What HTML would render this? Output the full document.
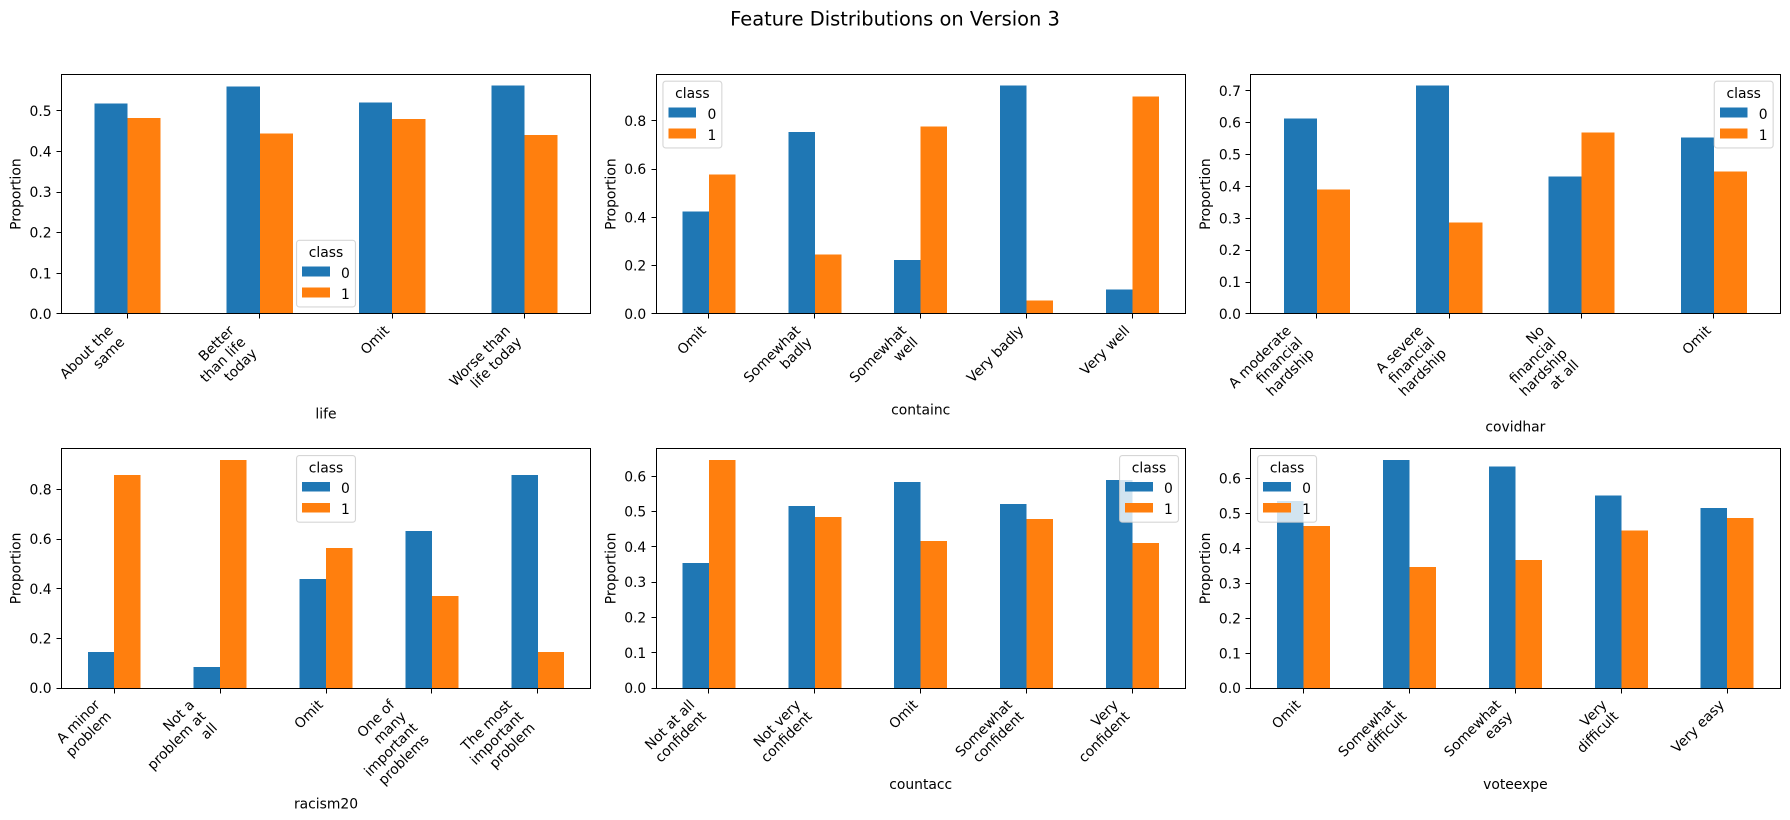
<!DOCTYPE html>
<html lang="en">
<head>
<meta charset="utf-8">
<title>Feature Distributions on Version 3</title>
<style>
html,body{margin:0;padding:0;background:#fff;}
body{width:1790px;height:820px;overflow:hidden;}
svg{display:block;}
text{font-family:"DejaVu Sans","Liberation Sans",sans-serif;font-size:13.89px;fill:#000;}
</style>
</head>
<body>
<svg id="figure" xmlns="http://www.w3.org/2000/svg" width="1790" height="820" viewBox="0 0 1790 820">
<text x="895" y="25.4" text-anchor="middle" style="font-size:19.44px">Feature Distributions on Version 3</text>
</svg>
<script>
const lifeCategories = ["About the\nsame", "Better\nthan life\ntoday", "Omit", "Worse than\nlife today"];
const lifeClass0 = [0.518, 0.560, 0.521, 0.562];
const lifeClass1 = [0.483, 0.444, 0.480, 0.441];
const lifeTicks = [0, 0.1, 0.2, 0.3, 0.4, 0.5];

const containcCategories = ["Omit", "Somewhat\nbadly", "Somewhat\nwell", "Very badly", "Very well"];
const containcClass0 = [0.424, 0.755, 0.224, 0.946, 0.101];
const containcClass1 = [0.577, 0.246, 0.777, 0.055, 0.901];
const containcTicks = [0, 0.2, 0.4, 0.6, 0.8];

const covidharCategories = ["A moderate\nfinancial\nhardship", "A severe\nfinancial\nhardship", "No\nfinancial\nhardship\nat all", "Omit"];
const covidharClass0 = [0.613, 0.716, 0.431, 0.553];
const covidharClass1 = [0.391, 0.287, 0.569, 0.447];
const covidharTicks = [0, 0.1, 0.2, 0.3, 0.4, 0.5, 0.6, 0.7];

const racism20Categories = ["A minor\nproblem", "Not a\nproblem at\nall", "Omit", "One of\nmany\nimportant\nproblems", "The most\nimportant\nproblem"];
const racism20Class0 = [0.145, 0.085, 0.439, 0.633, 0.858];
const racism20Class1 = [0.858, 0.919, 0.564, 0.371, 0.145];
const racism20Ticks = [0, 0.2, 0.4, 0.6, 0.8];

const countaccCategories = ["Not at all\nconfident", "Not very\nconfident", "Omit", "Somewhat\nconfident", "Very\nconfident"];
const countaccClass0 = [0.355, 0.516, 0.584, 0.522, 0.590];
const countaccClass1 = [0.646, 0.485, 0.417, 0.479, 0.411];
const countaccTicks = [0, 0.1, 0.2, 0.3, 0.4, 0.5, 0.6];

const voteexpeCategories = ["Omit", "Somewhat\ndifficult", "Somewhat\neasy", "Very\ndifficult", "Very easy"];
const voteexpeClass0 = [0.535, 0.653, 0.635, 0.551, 0.515];
const voteexpeClass1 = [0.464, 0.347, 0.367, 0.451, 0.487];
const voteexpeTicks = [0, 0.1, 0.2, 0.3, 0.4, 0.5, 0.6];

const charts = [
  {feature: "life", categories: lifeCategories, class0: lifeClass0, class1: lifeClass1, ticks: lifeTicks, legend: "lower center"},
  {feature: "containc", categories: containcCategories, class0: containcClass0, class1: containcClass1, ticks: containcTicks, legend: "upper left"},
  {feature: "covidhar", categories: covidharCategories, class0: covidharClass0, class1: covidharClass1, ticks: covidharTicks, legend: "upper right"},
  {feature: "racism20", categories: racism20Categories, class0: racism20Class0, class1: racism20Class1, ticks: racism20Ticks, legend: "upper center"},
  {feature: "countacc", categories: countaccCategories, class0: countaccClass0, class1: countaccClass1, ticks: countaccTicks, legend: "upper right"},
  {feature: "voteexpe", categories: voteexpeCategories, class0: voteexpeClass0, class1: voteexpeClass1, ticks: voteexpeTicks, legend: "upper left"}
];

const NS = "http://www.w3.org/2000/svg";
const svg = document.getElementById("figure");
const BLUE = "#1f77b4";
const ORANGE = "#ff7f0e";
const PANEL_W = 529.4;
const PANEL_H = 239.6;
const PANEL_LEFTS = [61.3, 656, 1250.7];
const PANEL_TOPS = [74.3, 448.6];
const LW = 1.11;
const LINE_GAP = 16.2;

function make(tag, parent) {
  const el = document.createElementNS(NS, tag);
  parent.appendChild(el);
  return el;
}
function setAll(el, pairs) {
  Object.keys(pairs).forEach(function (k) { el.setAttribute(k, pairs[k]); });
}
function snap(v) { return Math.round(v - 0.5) + 0.5; }

function drawPanel(chart, index) {
  const left = PANEL_LEFTS[index % 3];
  const top = PANEL_TOPS[Math.floor(index / 3)];
  const right = left + PANEL_W;
  const bottom = top + PANEL_H;
  const n = chart.categories.length;
  const yMax = Math.max.apply(null, chart.class0.concat(chart.class1)) * 1.05;
  const xScale = function (u) { return left + (u + 0.5) / n * PANEL_W; };
  const yScale = function (v) { return bottom - v / yMax * PANEL_H; };

  const g = make("g", svg);
  
  

  const barLayer = make("g", g);
  
  
  barLayer.setAttribute("shape-rendering", "crispEdges");
  chart.categories.forEach(function (cat, i) {
    const b0 = make("rect", barLayer);
    setAll(b0, {x: xScale(i - 0.25), y: yScale(chart.class0[i]), width: xScale(i) - xScale(i - 0.25), height: bottom - yScale(chart.class0[i]), fill: BLUE});
    
    
    const b1 = make("rect", barLayer);
    setAll(b1, {x: xScale(i), y: yScale(chart.class1[i]), width: xScale(i + 0.25) - xScale(i), height: bottom - yScale(chart.class1[i]), fill: ORANGE});
    
    
  });

  const frame = make("rect", g);
  setAll(frame, {x: snap(left), y: snap(top), width: snap(right) - snap(left), height: snap(bottom) - snap(top), fill: "none", stroke: "#000", "stroke-width": LW, "shape-rendering": "crispEdges"});
  
  

  chart.ticks.forEach(function (t) {
    const y = snap(yScale(t));
    const mark = make("line", g);
    setAll(mark, {x1: snap(left) - 4.86, x2: snap(left), y1: y, y2: y, stroke: "#000", "stroke-width": LW, "shape-rendering": "crispEdges"});
    
    
    const label = make("text", g);
    setAll(label, {x: left - 9.72, y: yScale(t) + 5, "text-anchor": "end"});
    label.textContent = t.toFixed(1);
    
    
  });

  const yTitle = make("text", g);
  setAll(yTitle, {transform: "translate(" + (left - 40.6) + " " + (top + PANEL_H / 2) + ") rotate(-90)", "text-anchor": "middle"});
  yTitle.textContent = "Proportion";
  
  

  let lowest = bottom + 9.72;
  chart.categories.forEach(function (cat, i) {
    const tx = snap(xScale(i));
    const mark = make("line", g);
    setAll(mark, {x1: tx, x2: tx, y1: snap(bottom), y2: snap(bottom) + 4.86, stroke: "#000", "stroke-width": LW, "shape-rendering": "crispEdges"});
    
    

    const lines = cat.split("\n");
    const block = make("g", g);
    
    
    const texts = lines.map(function (line) {
      const t = make("text", block);
      t.setAttribute("text-anchor", "end");
      t.textContent = line;
      return t;
    });
    const w = Math.max.apply(null, texts.map(function (t) { return t.getComputedTextLength(); }));
    const h = 14 + (lines.length - 1) * LINE_GAP;
    const half = (w + h) * Math.SQRT1_2 / 2;
    const cx = xScale(i) - half;
    const cy = bottom + 9.72 + half;
    block.setAttribute("transform", "translate(" + cx + " " + cy + ") rotate(-45)");
    texts.forEach(function (t, k) {
      t.setAttribute("x", w / 2);
      t.setAttribute("y", -h / 2 + 11 + k * LINE_GAP);
    });
    lowest = Math.max(lowest, cy + half);
  });

  const xTitle = make("text", g);
  setAll(xTitle, {x: left + PANEL_W / 2, y: lowest + 5.56 + 1.1 + 11, "text-anchor": "middle"});
  xTitle.textContent = chart.feature;
  
  

  const LEG_W = 58.9;
  const LEG_H = 66.7;
  const PAD = 6.94;
  let lx = left + PAD;
  if (chart.legend.indexOf("right") >= 0) lx = right - PAD - LEG_W;
  if (chart.legend.indexOf("center") >= 0) lx = left + PANEL_W / 2 - LEG_W / 2;
  const ly = chart.legend.indexOf("lower") >= 0 ? bottom - PAD - LEG_H : top + PAD;

  const legend = make("g", g);
  
  
  const box = make("rect", legend);
  setAll(box, {x: lx, y: ly, width: LEG_W, height: LEG_H, rx: 2.8, ry: 2.8, fill: "#fff", "fill-opacity": 0.8, stroke: "#ccc", "stroke-opacity": 0.8, "stroke-width": LW});
  
  
  const legendTitle = make("text", legend);
  setAll(legendTitle, {x: lx + LEG_W / 2, y: ly + 16.8, "text-anchor": "middle"});
  legendTitle.textContent = "class";
  
  

  const swatch0 = make("rect", legend);
  setAll(swatch0, {x: lx + 5.5, y: ly + 26.4, width: 27.8, height: 9.8, fill: BLUE, "shape-rendering": "crispEdges"});
  
  
  const entry0 = make("text", legend);
  setAll(entry0, {x: lx + 44.5, y: ly + 37.7});
  entry0.textContent = "0";
  
  

  const swatch1 = make("rect", legend);
  setAll(swatch1, {x: lx + 5.5, y: ly + 47.4, width: 27.8, height: 9.8, fill: ORANGE, "shape-rendering": "crispEdges"});
  
  
  const entry1 = make("text", legend);
  setAll(entry1, {x: lx + 44.5, y: ly + 58.7});
  entry1.textContent = "1";
  
  
}

charts.forEach(drawPanel);
</script>
</body>
</html>
